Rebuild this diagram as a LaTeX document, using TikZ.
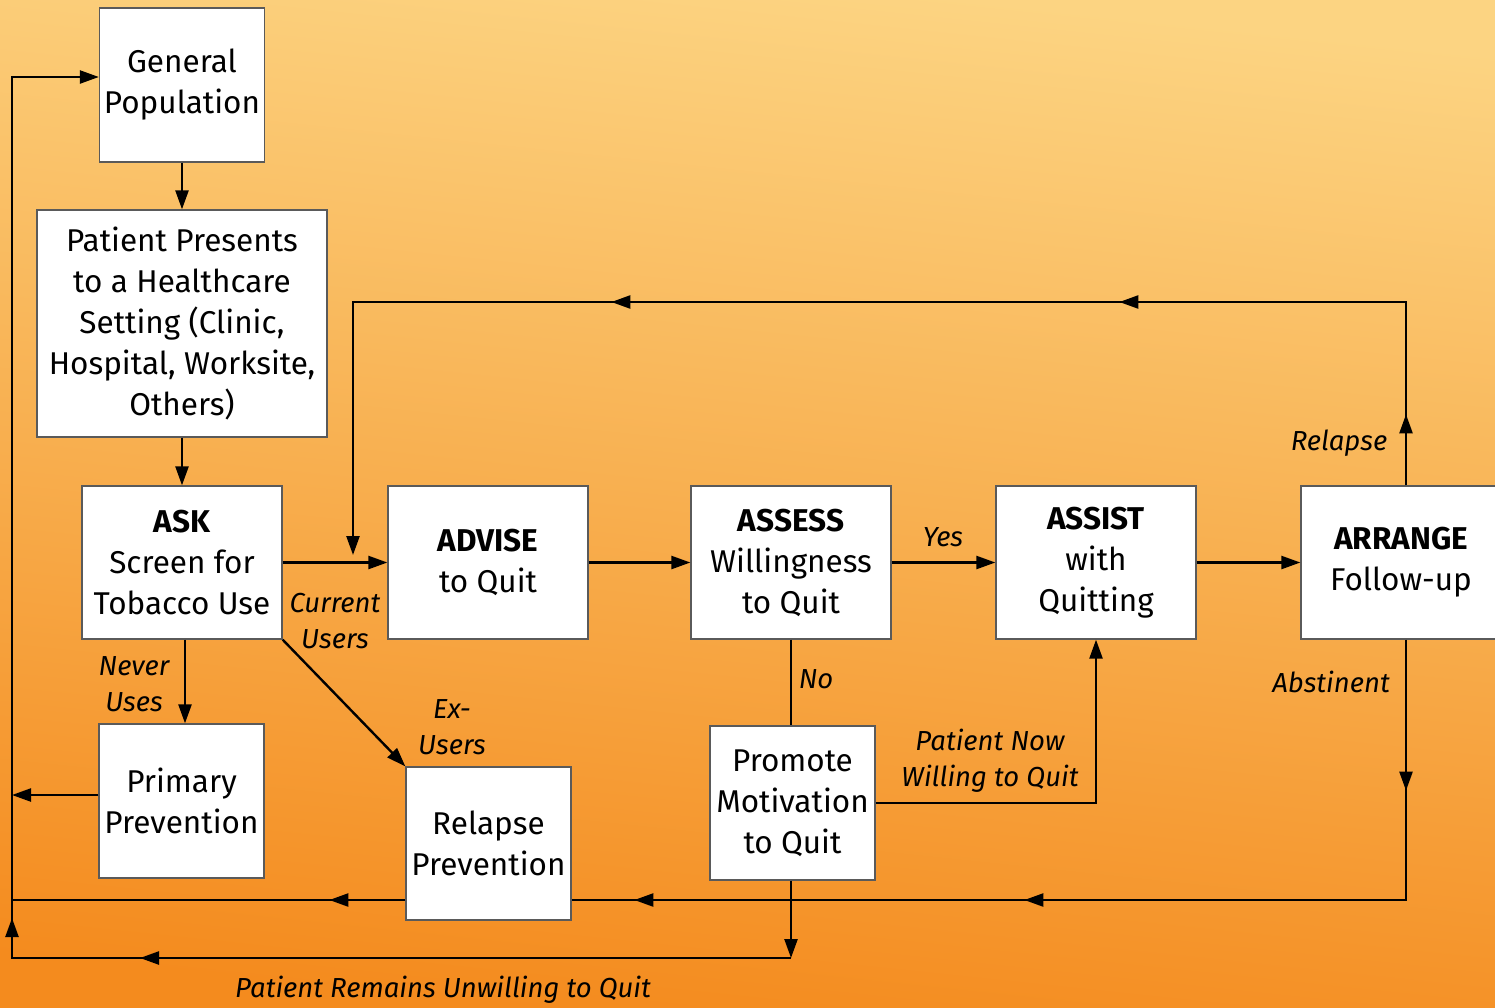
\documentclass[tikz,border=0pt]{standalone}
\usepackage{fontspec}
\setmainfont{Fira Sans}
\usetikzlibrary{arrows.meta,decorations.markings}

\definecolor{bgtop}{HTML}{FCD482}
\definecolor{bgmid}{HTML}{F8B04A}
\definecolor{bgbot}{HTML}{F48B1E}
\definecolor{boxline}{HTML}{5A5A5A}

\tikzset{
  x=1pt, y=-1pt,
  box/.style={draw=boxline, line width=1.3pt, fill=white, align=center,
    inner sep=2pt, font=\fontsize{31.5}{41}\selectfont},
  wire/.style={line width=2.4pt, draw=black},
  tip/.style={-{Triangle[length=19pt,width=13pt]}},
  tipat/.style={postaction={decorate,decoration={markings,
    mark=at position #1 with {\arrow{Triangle[length=19pt,width=13pt]}}}}},
  lbl/.style={font=\fontsize{27.5}{36}\selectfont\itshape, align=center},
}

\begin{document}
\begin{tikzpicture}
\useasboundingbox (0,0) rectangle (1495,1007);
\clip (0,0) rectangle (1495,1007);
\shade[top color=bgtop, middle color=bgmid, bottom color=bgbot, shading angle=-6]
  (0,0) rectangle (1495,1007);

% boxes
\node[box, minimum width=165pt, minimum height=154pt] (gp) at (182,85) {General\\Population};
\node[box, minimum width=290pt, minimum height=227pt] (pp) at (182,323.5)
  {Patient Presents\\to a Healthcare\\Setting (Clinic,\\Hospital, Worksite,\\Others)};
\node[box, minimum width=200pt, minimum height=153pt] (ask) at (182,562.5)
  {\textbf{ASK}\\Screen for\\Tobacco Use};
\node[box, minimum width=200pt, minimum height=153pt] (advise) at (488,562.5)
  {\textbf{ADVISE}\\to Quit};
\node[box, minimum width=200pt, minimum height=153pt] (assess) at (791,562.5)
  {\textbf{ASSESS}\\Willingness\\to Quit};
\node[box, minimum width=200pt, minimum height=153pt] (assist) at (1096,562.5)
  {\textbf{ASSIST}\\with\\Quitting};
\node[box, minimum width=210pt, minimum height=153pt] (arrange) at (1406,562.5)
  {\hspace*{-10pt}\textbf{ARRANGE}\\\hspace*{-10pt}Follow-up};
\node[box, minimum width=165pt, minimum height=154pt] (primary) at (181.5,801)
  {Primary\\Prevention};
\node[box, minimum width=165pt, minimum height=153pt] (relapse) at (488.5,843.5)
  {Relapse\\Prevention};
\node[box, minimum width=165pt, minimum height=154pt] (promote) at (792.5,803)
  {Promote\\Motivation\\to Quit};

% rail corners
\coordinate (loopin) at (353,555);
\coordinate (westrail) at (12,900);
\coordinate (se) at (791,958);
\coordinate (sw) at (12,958);
\coordinate (primout) at (12,795);

% main row
\draw[wire, tip] (gp.south) -- (pp.north);
\draw[wire, tip] (pp.south) -- (ask.north);
\draw[wire, tip] (ask.east) -- (advise.west);
\draw[wire, tip] (advise.east) -- (assess.west);
\draw[wire, tip] (assess.east) -- (assist.west);
\draw[wire, tip] (assist.east) -- (arrange.west);

% relapse loop back to ADVISE
\draw[wire, tip, tipat=71pt, tipat=470pt, tipat=978pt]
  (arrange.north) -- (1406,302) -- (353,302) -- (loopin);

% branches from ASK
\draw[wire, tip] (ask.south -| 185,0) -- (primary.north -| 185,0);
\draw[wire, tip] (ask.south east) -- (relapse.north west);
\draw[wire, tip] ([yshift=6pt]primary.west) -- (primout);

% not willing
\draw[wire] (assess.south) -- (promote.north -| assess.south);
\draw[wire, tip] (promote.east) -| (assist.south);
\draw[wire, tip] (promote.south -| se) -- (se);
\draw[wire, tip, tipat=651pt, tipat=819pt] (se) -- (sw) |- ([yshift=8pt]gp.west);

% abstinent rail
\draw[wire, tipat=151pt, tipat=642pt, tipat=1032pt]
  (arrange.south) |- ([yshift=-56.5pt]relapse.east);
\draw[wire, tipat=76pt] ([yshift=-56.5pt]relapse.west) -- (westrail);

% labels
\node[lbl] (lrelapse) at (1339,443) {Relapse};
\node[lbl] (lyes) at (943,537) {Yes};
\node[lbl] (lcurrent) at (335,621) {Current\\Users};
\node[lbl] (lnever) at (134,684) {Never\\Uses};
\node[lbl] (lex) at (452,727) {Ex-\\Users};
\node[lbl] (lno) at (816,679) {No};
\node[lbl] (lnow) at (990,761) {Patient Now\\Willing to Quit};
\node[lbl] (labst) at (1331,682) {Abstinent};
\node[lbl] (lunw) at (443,990) {Patient Remains Unwilling to Quit};
\end{tikzpicture}
\end{document}
